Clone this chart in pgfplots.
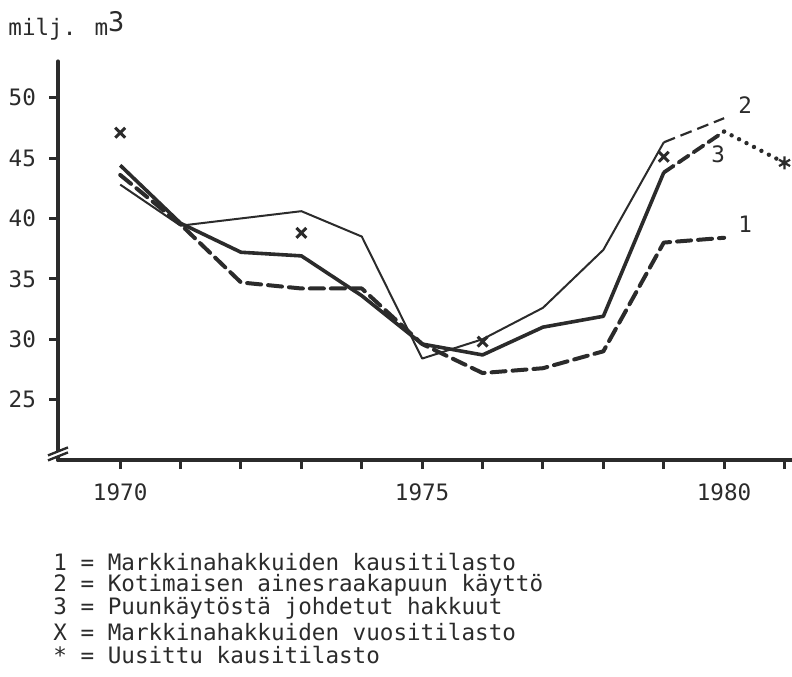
\documentclass[border=0pt]{standalone}
\usepackage{fontspec}
\setmainfont{DejaVu Sans Mono}
\usepackage{pgfplots}
\pgfplotsset{compat=1.18}
\definecolor{ink}{HTML}{2B2B2B}
\begin{document}
\begin{tikzpicture}[font=\fontsize{11.3}{13}\selectfont, text=ink]
\begin{axis}[
  at={(0,0)}, anchor=south west,
  scale only axis, width=367.8pt, height=199.3pt,
  xmin=1968.97, xmax=1981.15, ymin=20, ymax=53,
  axis x line*=bottom, axis y line*=left,
  axis line style={line width=2pt, ink, line cap=round},
  xtick={1970,...,1981}, xticklabels={1970,,,,,1975,,,,,1980,},
  ytick={25,30,...,50}, yticklabels={25,30,35,40,45,50},
  tick align=outside, major tick length=4.5pt,
  tick style={line width=1.5pt, ink},
  tick label style={font=\fontsize{11.3}{13}\selectfont},
  xticklabel style={yshift=-4pt},
  yticklabel style={xshift=-3pt},
  clip=false,
]
% Series 1: Markkinahakkuiden kausitilasto (thick dashed)
\addplot[ink, line width=2pt, dash pattern=on 7pt off 3.5pt, line cap=round, line join=round] coordinates {
 (1970,43.6) (1971,39.5) (1972,34.7) (1973,34.2) (1974,34.2) (1975,29.6)
 (1976,27.2) (1977,27.6) (1978,29.0) (1979,38.0) (1980,38.4)};
% Series 2: Kotimaisen ainesraakapuun kaytto (thin solid, then dashed)
\addplot[ink, line width=1pt, line join=round] coordinates {
 (1970,42.8) (1971,39.4) (1972,40.0) (1973,40.6) (1974,38.5) (1975,28.4)
 (1976,30.0) (1977,32.6) (1978,37.4) (1979,46.3)};
\addplot[ink, line width=1.1pt, dash pattern=on 6pt off 3pt] coordinates {
 (1979,46.3) (1980,48.3)};
% Series 3: Puunkaytosta johdetut hakkuut (thick solid, then dashed, then dotted)
\addplot[ink, line width=1.8pt, line join=round] coordinates {
 (1970,44.4) (1971,39.6) (1972,37.2) (1973,36.9) (1974,33.6) (1975,29.6)
 (1976,28.7) (1977,31.0) (1978,31.9) (1979,43.8)};
\addplot[ink, line width=1.9pt, dash pattern=on 6pt off 3pt, line cap=round] coordinates {
 (1979,43.8) (1980,47.2)};
\addplot[ink, line width=2.2pt, dash pattern=on 0pt off 4.2pt, line cap=round] coordinates {
 (1980,47.2) (1981,44.6)};
% X = Markkinahakkuiden vuositilasto
\addplot[only marks, mark=x, mark size=3.5pt, mark options={line width=1.5pt, ink}] coordinates {
 (1970,47.1) (1973,38.8) (1976,29.8) (1979,45.1)};
% * = Uusittu kausitilasto
\addplot[only marks, mark=asterisk, mark size=3.2pt, mark options={line width=1.1pt, ink}] coordinates {
 (1981,44.6)};
% curve labels
\node[ink] at (axis cs:1980.35,49.4) {2};
\node[ink] at (axis cs:1979.9,45.3) {3};
\node[ink] at (axis cs:1980.35,39.5) {1};
\end{axis}
% axis break (axis box lower-left corner is at the origin)
\fill[white] (-3pt,0.3pt) -- ++(6pt,3pt) -- ++(0,2.5pt) -- ++(-6pt,-3pt) -- cycle;
\draw[ink, line width=1.2pt] (-5pt,-0.2pt) -- ++(10pt,4pt);
\draw[ink, line width=1.2pt] (-5pt,2.3pt) -- ++(10pt,4pt);
\node[anchor=base west, inner sep=0pt] at (-25pt,212.5pt) {milj. m\raisebox{1.5pt}{\fontsize{13.5}{14}\selectfont 3}};
\begin{scope}[every node/.style={anchor=west, inner sep=0pt, font=\fontsize{11.3}{13}\selectfont}]
\node at (-2.5pt,-51pt) {1 = Markkinahakkuiden kausitilasto};
\node at (-2.5pt,-62.5pt) {2 = Kotimaisen ainesraakapuun käyttö};
\node at (-2.5pt,-74pt) {3 = Puunkäytöstä johdetut hakkuut};
\node at (-2.5pt,-86pt) {X = Markkinahakkuiden vuositilasto};
\node at (-2.5pt,-97.5pt) {* = Uusittu kausitilasto};
\end{scope}
\pgfresetboundingbox
\useasboundingbox (-29pt,-108pt) rectangle (367pt,230pt);
\end{tikzpicture}
\end{document}
